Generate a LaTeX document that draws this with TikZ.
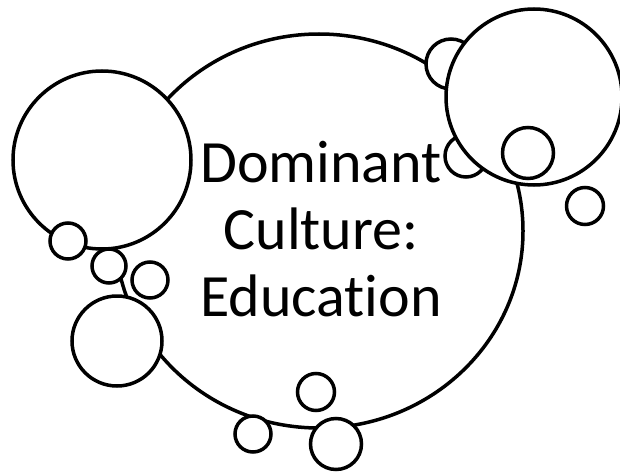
\documentclass[tikz,border=0pt]{standalone}
\usepackage{fontspec}
\setmainfont{Carlito}[Ligatures=NoCommon]
\usetikzlibrary{shapes,positioning}

\begin{document}
\begin{tikzpicture}[x=1pt,y=-1pt,
  bub/.style={circle,draw,fill=white,line width=3.5pt,inner sep=0pt,minimum size=#1},
  txt/.style={align=center,font=\fontsize{60}{67}\selectfont}]
  \useasboundingbox (0,0) rectangle (620,473);
  % main oval
  \node[ellipse,draw,fill=white,line width=3.5pt,inner sep=0pt,minimum width=408,minimum height=394] (m0) at (319,231) {};
  % left group
  \node[bub=178] (l1) at (102,160) {};
  \node[bub=36] (l2) at (68,241) {};
  \node[bub=34] (l3) at (109,266) {};
  \node[bub=36] (l4) at (150,280) {};
  \node[bub=90] (l5) at (117,341) {};
  % bottom group
  \node[bub=37] (b1) at (316,392) {};
  \node[bub=36] (b2) at (253,434) {};
  \node[bub=51] (b3) at (336,444) {};
  % right group
  \node[bub=50] (r1) at (451,64) {};
  \node[bub=42] (r2) at (466,156) {};
  \node[bub=176] (r3) at (534,97) {};
  \node[bub=51] (r4) at (528,153) {};
  \node[bub=37] (r5) at (585,206) {};
  \node[txt] (t0) at (321,229) {Dominant\\Culture:\\Education};
\end{tikzpicture}
\end{document}
